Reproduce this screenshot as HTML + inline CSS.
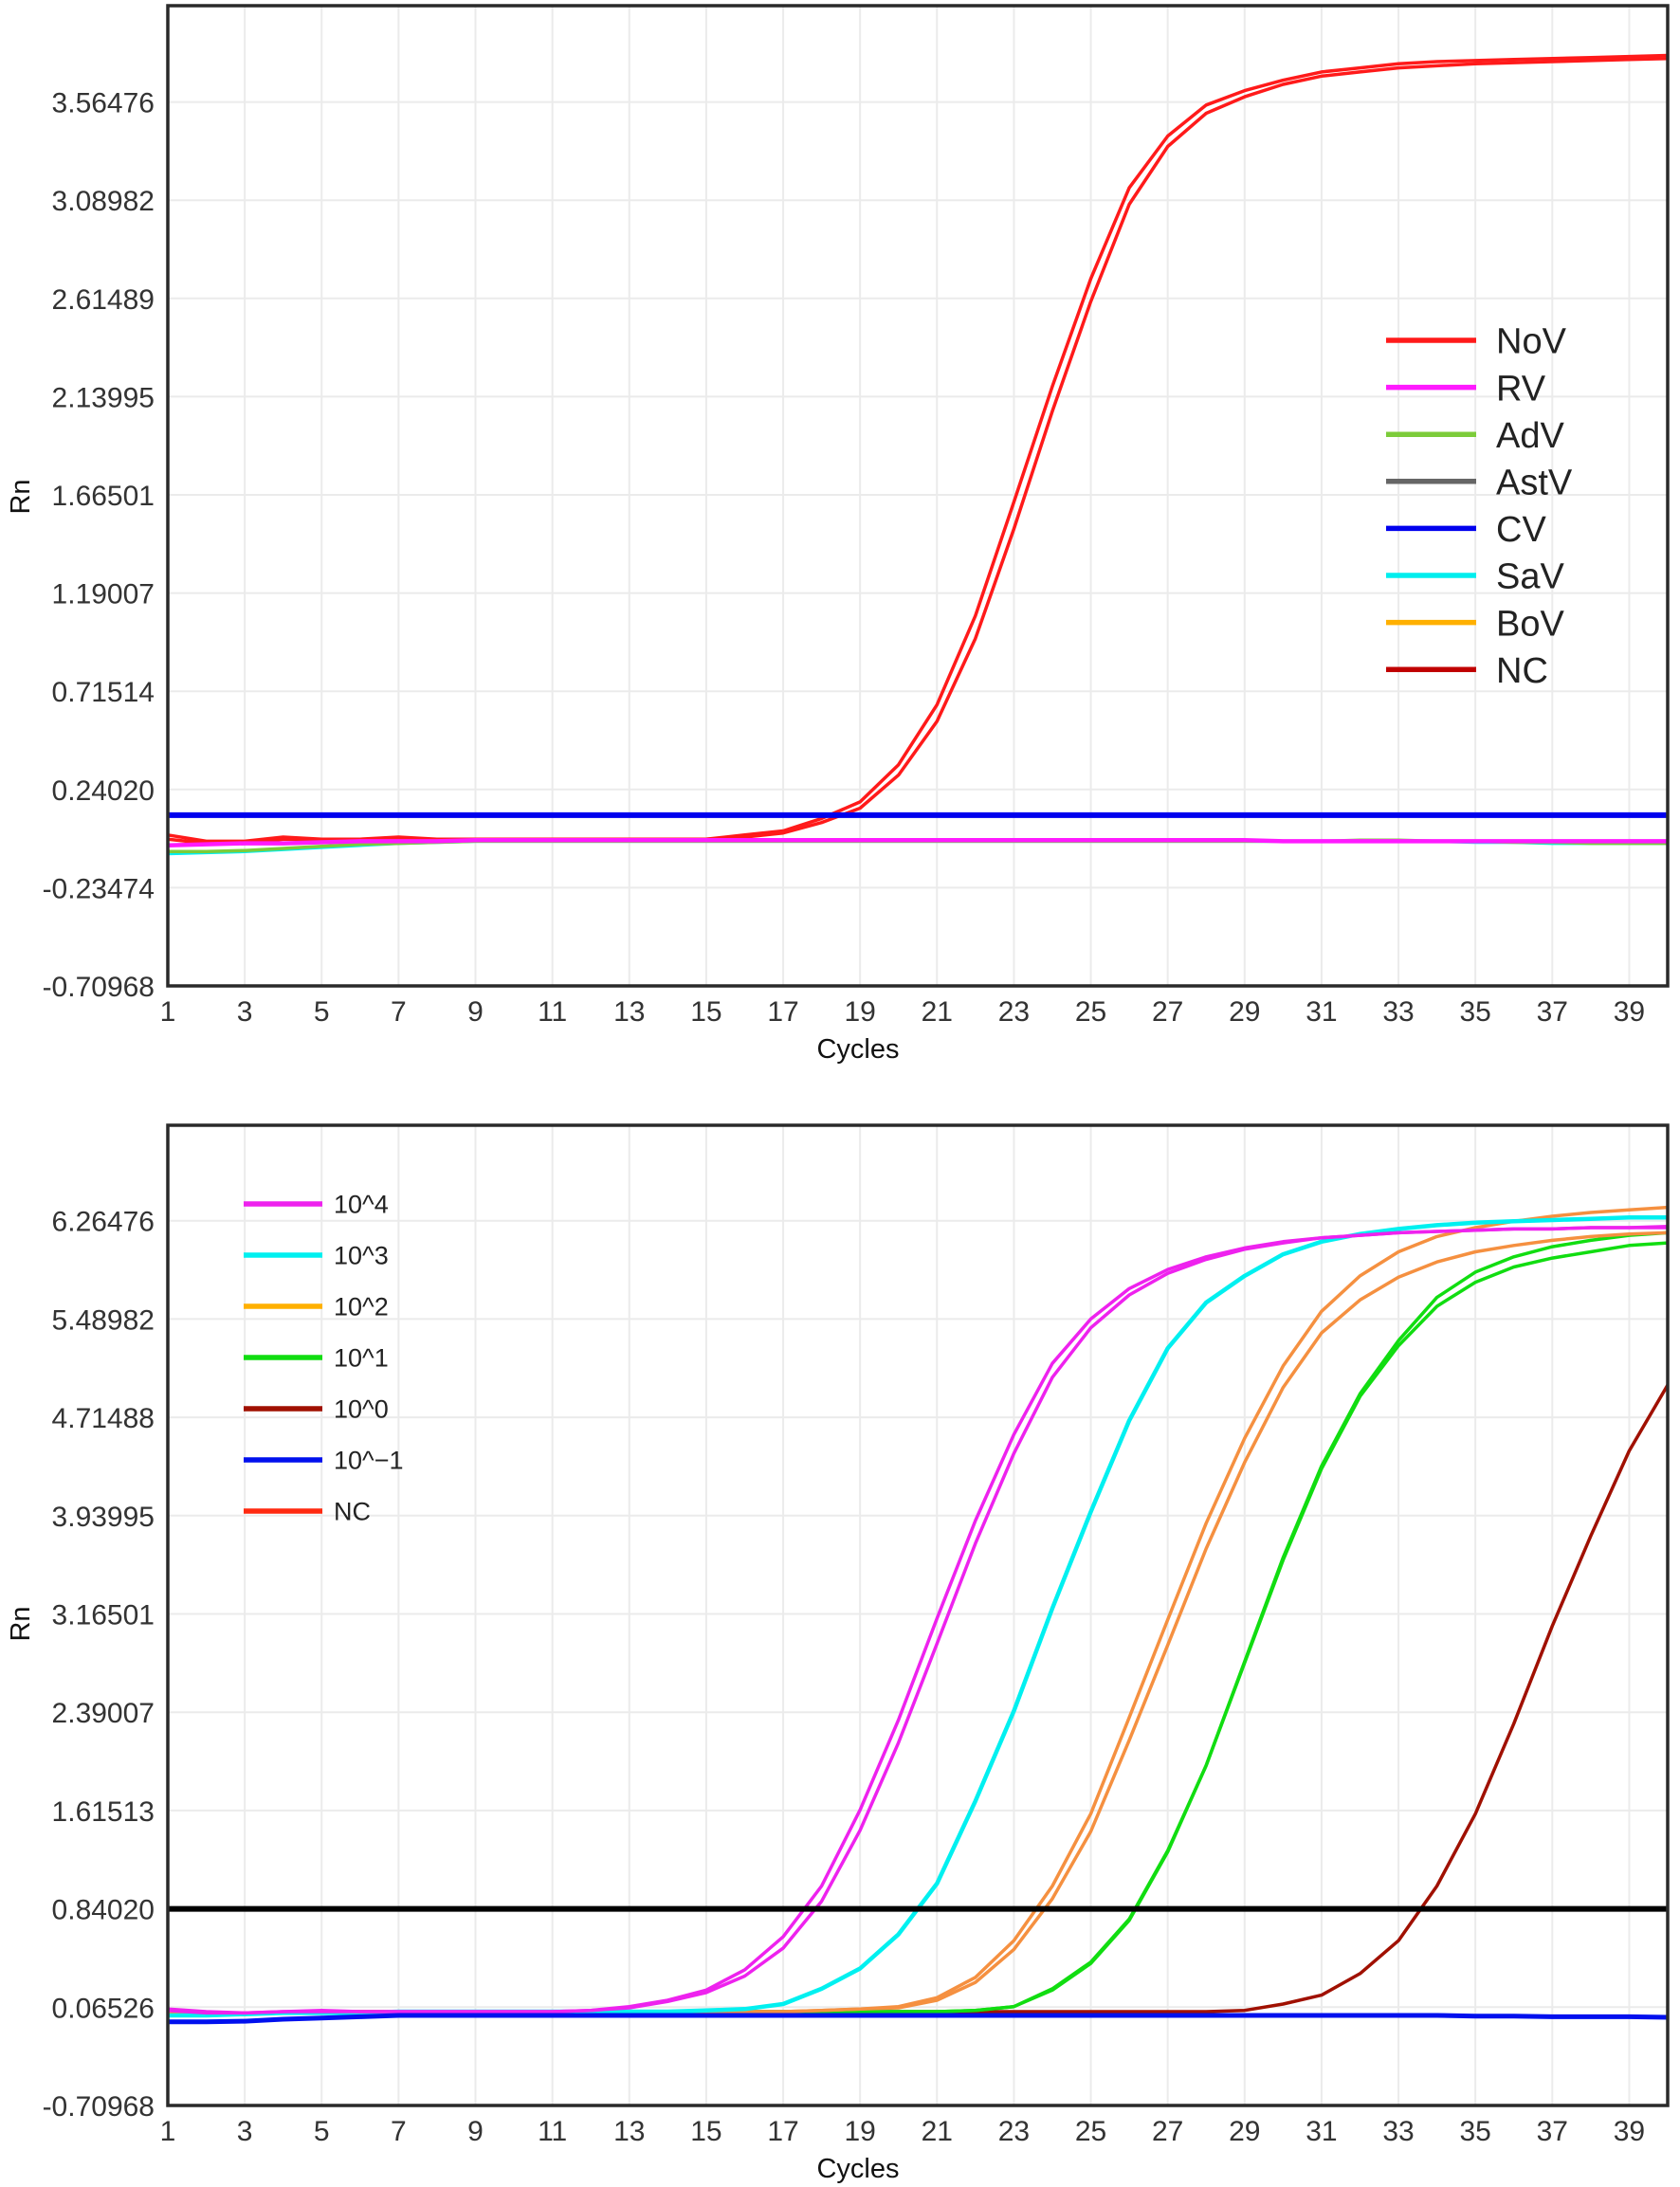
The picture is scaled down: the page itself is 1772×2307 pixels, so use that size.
<!DOCTYPE html>
<html><head><meta charset="utf-8"><style>
html,body{margin:0;padding:0;background:#fff;}
svg{display:block;font-family:"Liberation Sans",Arial,sans-serif;}
</style></head><body>
<svg id="root" width="1772" height="2307" viewBox="0 0 1772 2307" xmlns="http://www.w3.org/2000/svg"></svg>
<script>
// ---------- shared data ----------
const cycles = [1,2,3,4,5,6,7,8,9,10,11,12,13,14,15,16,17,18,19,20,21,22,23,24,25,26,27,28,29,30,31,32,33,34,35,36,37,38,39,40];
const xTickLabels = [1,3,5,7,9,11,13,15,17,19,21,23,25,27,29,31,33,35,37,39];

// ---------- top chart data ----------
const topYTicks = ["-0.70968","-0.23474","0.24020","0.71514","1.19007","1.66501","2.13995","2.61489","3.08982","3.56476"];
const topNames = ["NoV","RV","AdV","AstV","CV","SaV","BoV","NC"];
const topColors = ["#ff1a1a","#ff1aff","#7ccc3a","#666666","#0000ee","#00eeee","#ffb000","#c00000"];
const novA = [0.02,-0.01,-0.01,0.01,0.0,0.0,0.01,0.0,0.0,0.0,0.0,0.0,0.0,0.0,0.0,0.02,0.04,0.10,0.18,0.36,0.65,1.08,1.63,2.19,2.71,3.15,3.40,3.55,3.62,3.67,3.71,3.73,3.75,3.76,3.765,3.77,3.775,3.78,3.785,3.79];
const novB = [0.0,-0.02,-0.02,0.0,0.0,0.0,0.0,0.0,0.0,0.0,0.0,0.0,0.0,0.0,0.0,0.01,0.03,0.08,0.15,0.31,0.57,0.97,1.50,2.07,2.60,3.07,3.35,3.51,3.59,3.65,3.69,3.71,3.73,3.74,3.75,3.755,3.76,3.765,3.77,3.775];
const savVals = [-0.07,-0.065,-0.06,-0.05,-0.04,-0.03,-0.02,-0.015,-0.01,-0.01,-0.01,-0.01,-0.01,-0.01,-0.01,-0.01,-0.01,-0.01,-0.01,-0.01,-0.01,-0.01,-0.01,-0.01,-0.01,-0.01,-0.01,-0.01,-0.01,-0.01,-0.01,-0.01,-0.01,-0.01,-0.015,-0.015,-0.02,-0.02,-0.02,-0.02];
const advVals = [-0.06,-0.06,-0.055,-0.045,-0.035,-0.025,-0.02,-0.015,-0.01,-0.01,-0.01,-0.01,-0.01,-0.01,-0.01,-0.01,-0.01,-0.01,-0.01,-0.01,-0.01,-0.01,-0.01,-0.01,-0.01,-0.01,-0.01,-0.01,-0.01,-0.01,-0.01,-0.005,-0.005,-0.01,-0.01,-0.015,-0.015,-0.02,-0.02,-0.02];
const rvVals = [-0.03,-0.025,-0.02,-0.02,-0.015,-0.01,-0.01,-0.01,-0.005,-0.005,-0.005,-0.005,-0.005,-0.005,-0.005,-0.005,-0.005,-0.005,-0.005,-0.005,-0.005,-0.005,-0.005,-0.005,-0.005,-0.005,-0.005,-0.005,-0.005,-0.01,-0.01,-0.01,-0.01,-0.01,-0.01,-0.01,-0.01,-0.01,-0.01,-0.01];
const cvLevel = 0.116;

// ---------- bottom chart data ----------
const botYTicks = ["-0.70968","0.06526","0.84020","1.61513","2.39007","3.16501","3.93995","4.71488","5.48982","6.26476"];
const botNames = ["10^4","10^3","10^2","10^1","10^0","10^\u22121","NC"];
const botColors = ["#ee22ee","#00f0f0","#ffb000","#11dd11","#a01000","#0010ee","#ff2a10"];
const e4A = [0.05,0.03,0.02,0.03,0.04,0.03,0.03,0.03,0.03,0.03,0.03,0.04,0.07,0.12,0.20,0.36,0.62,1.02,1.62,2.33,3.13,3.90,4.58,5.14,5.49,5.73,5.88,5.98,6.05,6.10,6.13,6.15,6.17,6.18,6.19,6.20,6.20,6.21,6.21,6.21];
const e4B = [0.04,0.02,0.02,0.03,0.03,0.03,0.03,0.03,0.03,0.03,0.03,0.04,0.06,0.11,0.18,0.31,0.53,0.90,1.46,2.15,2.93,3.72,4.43,5.03,5.42,5.68,5.85,5.96,6.04,6.09,6.13,6.15,6.17,6.18,6.19,6.20,6.20,6.21,6.21,6.22];
const e3A = [0.0,0.0,0.01,0.02,0.02,0.02,0.03,0.03,0.03,0.03,0.03,0.03,0.03,0.03,0.04,0.05,0.09,0.21,0.37,0.64,1.04,1.69,2.40,3.21,3.97,4.69,5.26,5.62,5.83,6.00,6.10,6.16,6.20,6.23,6.25,6.26,6.27,6.28,6.29,6.29];
const e2A = [0.02,0.02,0.02,0.02,0.03,0.03,0.03,0.03,0.03,0.03,0.03,0.03,0.03,0.03,0.03,0.03,0.03,0.04,0.05,0.07,0.14,0.30,0.59,1.02,1.59,2.35,3.12,3.88,4.55,5.12,5.55,5.83,6.02,6.14,6.21,6.26,6.30,6.33,6.35,6.37];
const e2B = [0.02,0.02,0.02,0.02,0.03,0.03,0.03,0.03,0.03,0.03,0.03,0.03,0.03,0.03,0.03,0.03,0.03,0.04,0.05,0.06,0.12,0.26,0.52,0.92,1.45,2.17,2.92,3.68,4.36,4.95,5.38,5.64,5.82,5.94,6.02,6.07,6.11,6.14,6.16,6.17];
const e1A = [0.01,0.01,0.02,0.02,0.02,0.03,0.03,0.03,0.03,0.03,0.03,0.03,0.03,0.03,0.03,0.03,0.03,0.03,0.03,0.03,0.03,0.04,0.07,0.21,0.42,0.76,1.30,1.97,2.78,3.59,4.31,4.88,5.28,5.59,5.78,5.90,5.97,6.02,6.07,6.09];
const e1B = [0.01,0.01,0.02,0.02,0.02,0.03,0.03,0.03,0.03,0.03,0.03,0.03,0.03,0.03,0.03,0.03,0.03,0.03,0.03,0.03,0.03,0.04,0.07,0.20,0.41,0.75,1.29,1.97,2.79,3.61,4.33,4.90,5.32,5.66,5.86,5.98,6.06,6.11,6.15,6.17];
const e0A = [0.01,0.01,0.02,0.02,0.02,0.03,0.03,0.03,0.03,0.03,0.03,0.03,0.03,0.03,0.03,0.03,0.03,0.03,0.03,0.03,0.03,0.03,0.03,0.03,0.03,0.03,0.03,0.03,0.04,0.09,0.16,0.33,0.59,1.02,1.59,2.30,3.07,3.78,4.45,4.97];
const em1A = [-0.05,-0.05,-0.045,-0.03,-0.02,-0.01,0.0,0.0,0.0,0.0,0.0,0.0,0.0,0.0,0.0,0.0,0.0,0.0,0.0,0.0,0.0,0.0,0.0,0.0,0.0,0.0,0.0,0.0,0.0,0.0,0.0,0.0,0.0,0.0,-0.005,-0.005,-0.01,-0.01,-0.01,-0.015];
const thresholdLevel = 0.84020;

const NS = "http://www.w3.org/2000/svg";
const root = document.getElementById('root');
function mk(tag, attrs, parent){
  const e = document.createElementNS(NS, tag);
  for (const k in attrs) e.setAttribute(k, attrs[k]);
  (parent||root).appendChild(e);
  return e;
}

function drawChart(cfg){
  const g = mk('g', {});
  
  
  const L=177, R=1759, T=cfg.top, B=cfg.bottom;
  const ymin = parseFloat(cfg.yTicks[0]), ystep = parseFloat(cfg.yTicks[1]) - ymin;
  const pxPerStep = cfg.pxPerStep;
  const xs = c => L + (c-1)*(R-L)/39;
  const ys = v => B - (v-ymin)/ystep*pxPerStep;
  // gridlines
  xTickLabels.forEach(c=>{
    const l = mk('line',{x1:xs(c),x2:xs(c),y1:T,y2:B,stroke:'#ebebeb','stroke-width':2},g);
    
    
  });
  cfg.yTicks.forEach(t=>{
    const y = ys(parseFloat(t));
    const l = mk('line',{x1:L,x2:R,y1:y,y2:y,stroke:'#ebebeb','stroke-width':2},g);
    
    
    const tx = mk('text',{x:163,y:y+11,'text-anchor':'end','font-size':30,fill:'#333'},g);
    tx.textContent = t;
    
    
  });
  xTickLabels.forEach(c=>{
    const tx = mk('text',{x:xs(c),y:B+37,'text-anchor':'middle','font-size':30,fill:'#333'},g);
    tx.textContent = c;
    
    
  });
  const xt = mk('text',{x:905,y:B+76,'text-anchor':'middle','font-size':29,fill:'#111'},g);
  xt.textContent='Cycles';
  
  
  const yt = mk('text',{x:0,y:0,'text-anchor':'middle','font-size':29,fill:'#111',transform:`translate(31,${cfg.rnY}) rotate(-90)`},g);
  yt.textContent='Rn';
  
  
  // series
  cfg.series.forEach(s=>{
    const d = s.vals.map((v,i)=>(i?'L':'M')+xs(cycles[i]).toFixed(1)+','+ys(v).toFixed(1)).join(' ');
    const p = mk('path',{d:d,fill:'none',stroke:s.color,'stroke-width':s.w||3.5,'stroke-linejoin':'round'},g);
    
    
  });
  cfg.levels.forEach(s=>{
    const y = ys(s.v);
    const l = mk('line',{x1:L,x2:R,y1:y,y2:y,stroke:s.color,'stroke-width':s.w},g);
    
    
  });
  cfg.after && cfg.after.forEach(s=>{
    const d = s.vals.map((v,i)=>(i?'L':'M')+xs(cycles[i]).toFixed(1)+','+ys(v).toFixed(1)).join(' ');
    const p = mk('path',{d:d,fill:'none',stroke:s.color,'stroke-width':s.w||3.5},g);
    
    
  });
  const fr = mk('rect',{x:L,y:T,width:R-L,height:B-T,fill:'none',stroke:'#2a2a2a','stroke-width':3.5},g);
  
  
  // legend
  const lg = mk('g',{},g);
  
  
  cfg.legNames.forEach((n,i)=>{
    const y = cfg.leg.y + i*cfg.leg.dy;
    const ln = mk('line',{x1:cfg.leg.x1,x2:cfg.leg.x2,y1:y,y2:y,stroke:cfg.legColors[i],'stroke-width':5.5},lg);
    
    
    const tx = mk('text',{x:cfg.leg.tx,y:y+cfg.leg.fs*0.36,'font-size':cfg.leg.fs,fill:'#222'},lg);
    tx.textContent = n;
    
    
  });
}

drawChart({
  name:'specificity-chart', top:6, bottom:1040, pxPerStep:103.6, rnY:524,
  yTicks: topYTicks,
  series:[
    {name:'sav-curve',vals:savVals,color:topColors[5]},
    {name:'adv-curve',vals:advVals,color:topColors[2]},
    {name:'nov-curve-a',vals:novA,color:topColors[0]},
    {name:'nov-curve-b',vals:novB,color:topColors[0]},
    {name:'rv-curve',vals:rvVals,color:topColors[1],w:4.5}
  ],
  levels:[{name:'cv-line',v:cvLevel,color:'#0000ee',w:6}],
  legNames: topNames, legColors: topColors,
  leg:{x1:1462,x2:1557,tx:1578,y:359,dy:49.6,fs:38}
});

drawChart({
  name:'sensitivity-chart', top:1187, bottom:2221, pxPerStep:103.7, rnY:1713,
  yTicks: botYTicks,
  series:[
    {name:'e0-curve',vals:e0A,color:'#a01000'},
    {name:'e1-curve-a',vals:e1A,color:'#11dd11'},
    {name:'e1-curve-b',vals:e1B,color:'#11dd11'},
    {name:'e2-curve-a',vals:e2A,color:'#f59040'},
    {name:'e2-curve-b',vals:e2B,color:'#f59040'},
    {name:'e3-curve',vals:e3A,color:'#00f0f0',w:4.5},
    {name:'e4-curve-a',vals:e4A,color:'#ee22ee'},
    {name:'e4-curve-b',vals:e4B,color:'#ee22ee'}
  ],
  levels:[{name:'threshold-line',v:thresholdLevel,color:'#000',w:6}],
  after:[{name:'em1-curve',vals:em1A,color:'#0010ee',w:5}],
  legNames: botNames, legColors: botColors,
  leg:{x1:257,x2:340,tx:352,y:1270,dy:54,fs:27}
});
</script>
</body></html>
